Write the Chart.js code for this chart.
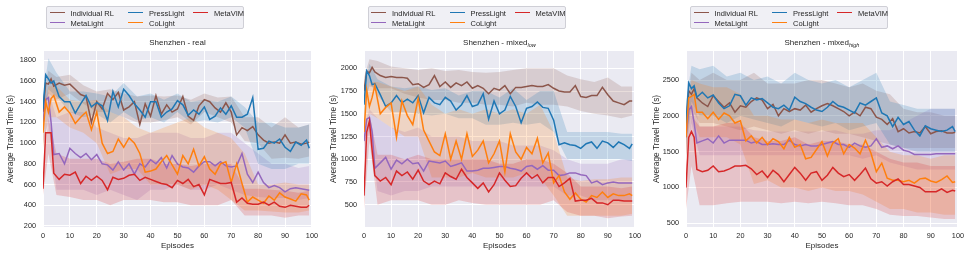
<!DOCTYPE html>
<html>
<head>
<meta charset="utf-8">
<script src="https://cdn.jsdelivr.net/npm/chart.js@4.4.0/dist/chart.umd.min.js"></script>
<style>
    body { margin: 0; background: #ffffff; width: 969px; height: 257px; position: relative; overflow: hidden; font-family: "Liberation Sans", Arial, sans-serif; }
    canvas { position: absolute; top: 0; }
    .legend { position: absolute; top: 6px; width: 198px; height: 23px; background: #f0f0f5; border: 1px solid #cfcfd6; border-radius: 2px; box-sizing: border-box; }
    .item { position: absolute; font-size: 7.5px; color: #262626; white-space: nowrap; line-height: 9px; }
    .item span.swatch { display: inline-block; width: 15px; height: 1.5px; vertical-align: middle; margin-right: 6px; position: relative; top: -1px; }
</style>
</head>
<body>
<canvas id="c1" width="323" height="257" style="left:0px"></canvas>
<canvas id="c2" width="323" height="257" style="left:323px"></canvas>
<canvas id="c3" width="323" height="257" style="left:646px"></canvas>
<script>
// Episode positions of the mean curves and of the shaded bands
const eps = [0, 1, 2, 3, 4, 6, 8, 10, 12, 14, 16, 18, 20, 22, 24, 26, 28, 30, 32, 34, 36, 38, 40, 42, 44, 46, 48, 50,
    52, 54, 56, 58, 60, 62, 64, 66, 68, 70, 72, 74, 76, 78, 80, 82, 84, 86, 88, 90, 92, 94, 96, 98, 99];
const bandEps = [0, 2, 5, 10, 15, 20, 25, 30, 35, 40, 45, 50, 55, 60, 65, 70, 75, 80, 85, 90, 95, 99];

const seriesNames = ['Individual RL', 'MetaLight', 'PressLight', 'CoLight', 'MetaVIM'];
const seriesColors = ['#8c564b', '#9467bd', '#1f77b4', '#ff7f0e', '#d62728'];

// ---- Shenzhen - real ----
const realIndRL = [1300, 1580, 1570, 1620, 1550, 1580, 1560, 1570, 1520, 1470, 1450, 1200, 1400, 1330, 1480, 1420, 1490, 1320,
    1350, 1400, 1180, 1380, 1260, 1460, 1280, 1370, 1300, 1330, 1450, 1260, 1220, 1360, 1420, 1400, 1340, 1300, 1390, 1300,
    1080, 1150, 1120, 1160, 1080, 1030, 1000, 1010, 1000, 1080, 1000, 1010, 990, 1000, 1010];
const realMetaLight = [1200, 1420, 1440, 1200, 890, 900, 800, 950, 900, 860, 900, 840, 890, 800, 790, 740, 820, 740, 800, 700,
    800, 770, 840, 800, 860, 760, 880, 800, 770, 760, 720, 780, 820, 820, 780, 820, 780, 770, 780, 900, 700, 620, 720, 620,
    570, 590, 570, 530, 560, 570, 560, 550, 545];
const realPressLight = [1330, 1660, 1620, 1580, 1600, 1450, 1400, 1400, 1290, 1380, 1460, 1350, 1390, 1360, 1220, 1500, 1350,
    1520, 1460, 1380, 1320, 1250, 1400, 1400, 1250, 1300, 1330, 1410, 1370, 1270, 1320, 1280, 1350, 1230, 1260, 1340, 1280,
    1360, 1250, 1250, 1280, 1440, 940, 950, 1020, 1000, 1040, 960, 920, 1010, 980, 1030, 950];
const realCoLight = [1100, 1400, 1300, 1430, 1460, 1300, 1350, 1290, 1190, 1250, 1300, 1130, 1300, 1000, 900, 920, 1040, 960,
    1050, 1000, 900, 720, 730, 750, 820, 880, 790, 700, 880, 800, 940, 780, 870, 750, 700, 800, 820, 620, 800, 610, 430, 480,
    450, 420, 490, 450, 520, 480, 460, 440, 510, 500, 450];
const realMetaVIM = [560, 1100, 1100, 1100, 710, 650, 700, 690, 720, 610, 680, 640, 680, 640, 550, 670, 650, 660, 690, 700, 640,
    670, 650, 630, 610, 600, 570, 640, 610, 650, 580, 600, 500, 650, 630, 610, 610, 620, 430, 470, 420, 410, 410, 430, 400,
    430, 390, 380, 400, 390, 380, 380, 400];

const realIndRLLo = [1150, 1480, 1420, 1480, 1380, 1300, 1300, 1250, 1200, 1200, 1220, 1250, 1180, 1300, 1250, 1200, 1020, 1000, 850, 860, 850, 870];
const realIndRLHi = [1450, 1700, 1640, 1660, 1560, 1500, 1520, 1480, 1450, 1460, 1450, 1460, 1420, 1480, 1440, 1450, 1250, 1250, 1150, 1250, 1150, 1180];
const realMetaLightLo = [1000, 1200, 550, 550, 550, 500, 550, 500, 450, 550, 550, 600, 550, 550, 600, 550, 500, 480, 470, 470, 450, 470];
const realMetaLightHi = [1400, 1500, 1250, 1300, 1300, 1150, 1100, 1050, 1050, 1100, 1100, 1100, 1050, 1050, 1100, 1100, 1000, 900, 800, 800, 760, 780];
const realPressLightLo = [1200, 1520, 1450, 1300, 1250, 1280, 1200, 1300, 1220, 1250, 1200, 1300, 1200, 1220, 1200, 1250, 1150, 800, 750, 750, 800, 800];
const realPressLightHi = [1450, 1820, 1680, 1500, 1500, 1480, 1450, 1580, 1450, 1480, 1420, 1480, 1400, 1420, 1400, 1450, 1350, 1200, 1200, 1150, 1150, 1180];
const realCoLightLo = [950, 1250, 1250, 1150, 1100, 1000, 700, 750, 750, 600, 600, 600, 550, 600, 550, 450, 350, 350, 340, 330, 330, 350];
const realCoLightHi = [1250, 1550, 1550, 1420, 1400, 1420, 1300, 1250, 1150, 1100, 1150, 1200, 1250, 1150, 1100, 1050, 900, 600, 600, 620, 600, 600];
const realMetaVIMLo = [500, 900, 500, 480, 450, 450, 400, 450, 450, 450, 430, 430, 400, 400, 400, 450, 300, 300, 300, 280, 300, 300];
const realMetaVIMHi = [650, 1250, 900, 850, 850, 850, 800, 820, 850, 850, 800, 800, 780, 800, 800, 800, 560, 560, 550, 540, 520, 540];

// ---- Shenzhen - mixed low ----
const lowIndRL = [1750, 1970, 1950, 2010, 1960, 1920, 1900, 1910, 1900, 1900, 1890, 1820, 1830, 1790, 1820, 1920, 1800, 1850,
    1790, 1840, 1810, 1850, 1780, 1810, 1780, 1720, 1780, 1760, 1810, 1720, 1790, 1790, 1800, 1810, 1800, 1800, 1820, 1780,
    1750, 1740, 1740, 1810, 1690, 1680, 1700, 1700, 1790, 1710, 1640, 1620, 1600, 1640, 1640];
const lowMetaLight = [1200, 1440, 1460, 1300, 900, 960, 1020, 890, 990, 950, 1000, 950, 960, 870, 980, 970, 960, 980, 920, 940,
    960, 870, 870, 880, 900, 900, 910, 920, 920, 900, 890, 870, 920, 930, 890, 930, 880, 880, 820, 830, 850, 850, 830, 820,
    740, 760, 720, 740, 750, 740, 740, 740, 740];
const lowPressLight = [1600, 1970, 1920, 1820, 1830, 1710, 1580, 1620, 1700, 1620, 1660, 1620, 1700, 1510, 1680, 1620, 1600,
    1680, 1640, 1540, 1600, 1700, 1580, 1600, 1720, 1440, 1640, 1500, 1540, 1690, 1580, 1400, 1560, 1580, 1630, 1570, 1560,
    1430, 1160, 1180, 1160, 1150, 1120, 1170, 1190, 1120, 1200, 1180, 1130, 1190, 1160, 1120, 1170];
const lowCoLight = [1300, 1760, 1580, 1680, 1810, 1500, 1570, 1620, 1240, 1640, 1480, 1380, 1670, 1320, 1200, 1080, 1040, 1280,
    1000, 1200, 1000, 1280, 1030, 1100, 1200, 960, 1060, 1200, 860, 1280, 1080, 1000, 1130, 1060, 1230, 960, 1070, 740, 820,
    640, 560, 630, 560, 530, 600, 580, 640, 580, 620, 600, 600, 620, 600];
const lowMetaVIM = [600, 1300, 1420, 1100, 820, 760, 800, 720, 870, 820, 860, 780, 880, 760, 720, 760, 730, 850, 810, 780, 890,
    800, 740, 680, 740, 640, 720, 850, 770, 700, 710, 790, 850, 790, 830, 740, 800, 800, 700, 740, 790, 540, 550, 550, 570,
    520, 520, 500, 550, 550, 540, 540, 540];

const lowIndRLLo = [1600, 1800, 1780, 1780, 1720, 1680, 1650, 1650, 1620, 1620, 1600, 1600, 1580, 1620, 1600, 1600, 1580, 1530, 1500, 1480, 1450, 1480];
const lowIndRLHi = [1900, 2100, 2080, 2020, 2000, 1980, 2000, 1970, 1980, 1960, 1950, 1960, 1980, 2000, 2000, 2000, 1920, 1880, 1850, 1900, 1800, 1800];
const lowMetaLightLo = [1000, 1350, 650, 600, 650, 650, 700, 700, 700, 700, 700, 700, 700, 700, 700, 700, 600, 600, 550, 550, 550, 550];
const lowMetaLightHi = [1350, 1550, 1450, 1350, 1300, 1350, 1250, 1250, 1250, 1200, 1200, 1200, 1150, 1150, 1150, 1100, 1000, 950, 950, 950, 1000, 1000];
const lowPressLightLo = [1450, 1850, 1700, 1520, 1520, 1500, 1480, 1500, 1450, 1450, 1380, 1380, 1400, 1380, 1400, 1300, 1000, 1000, 1000, 1000, 1000, 980];
const lowPressLightHi = [1750, 2050, 1880, 1800, 1780, 1800, 1760, 1780, 1700, 1750, 1750, 1680, 1780, 1650, 1750, 1750, 1300, 1300, 1300, 1300, 1280, 1280];
const lowCoLightLo = [1150, 1500, 1450, 1350, 1250, 1250, 800, 800, 800, 850, 800, 800, 800, 850, 800, 600, 380, 380, 380, 380, 380, 400];
const lowCoLightHi = [1450, 1850, 1850, 1800, 1750, 1800, 1600, 1500, 1550, 1500, 1550, 1500, 1550, 1500, 1600, 1300, 800, 760, 780, 780, 800, 800];
const lowMetaVIMLo = [450, 1200, 500, 550, 550, 550, 500, 500, 550, 520, 500, 500, 500, 500, 500, 550, 420, 380, 380, 350, 370, 380];
const lowMetaVIMHi = [750, 1500, 1050, 1050, 1000, 1050, 1000, 1000, 1000, 1000, 1000, 950, 950, 1000, 1000, 950, 850, 700, 700, 700, 680, 700];

// ---- Shenzhen - mixed high ----
const highIndRL = [1800, 2350, 2300, 2380, 2250, 2180, 2130, 2280, 2200, 2120, 2180, 2050, 2140, 2120, 2200, 2250, 2220, 2100,
    2160, 2000, 2100, 2060, 2100, 2080, 2150, 2050, 2100, 2140, 2170, 2140, 2100, 2060, 2000, 2050, 2000, 2120, 2100, 1980,
    1950, 1880, 1960, 1780, 1820, 1760, 1780, 1760, 1850, 1750, 1780, 1790, 1760, 1760, 1770];
const highMetaLight = [1700, 2080, 2130, 1900, 1620, 1650, 1680, 1620, 1720, 1620, 1660, 1660, 1660, 1660, 1620, 1640, 1600,
    1600, 1610, 1600, 1600, 1660, 1600, 1580, 1600, 1580, 1580, 1600, 1620, 1640, 1600, 1600, 1560, 1620, 1580, 1560, 1580,
    1680, 1560, 1580, 1540, 1580, 1520, 1500, 1460, 1460, 1460, 1460, 1470, 1470, 1470, 1470, 1470];
const highPressLight = [1900, 2460, 2380, 2420, 2260, 2330, 2250, 2290, 2180, 2100, 2140, 2300, 2280, 2150, 2250, 2220, 2240,
    2180, 2120, 2100, 2150, 2080, 2260, 2200, 2170, 2120, 2080, 2060, 2120, 2200, 2140, 2120, 2080, 2040, 2180, 2150, 2200,
    2250, 2040, 2000, 1850, 1980, 1880, 1920, 1800, 1720, 1860, 1820, 1800, 1780, 1800, 1850, 1780];
const highCoLight = [1700, 2250, 2270, 2300, 2050, 2050, 1960, 2050, 1950, 2040, 2000, 1900, 1930, 1650, 1720, 1620, 1700, 1600,
    1680, 1640, 1540, 1700, 1560, 1600, 1400, 1420, 1530, 1640, 1440, 1620, 1680, 1470, 1600, 1550, 1470, 1660, 1480, 1220,
    1340, 1130, 1100, 1100, 1080, 1100, 1060, 1120, 1130, 1090, 1070, 1110, 1160, 1070, 1080];
const highMetaVIM = [1000, 1700, 1780, 1700, 1250, 1220, 1240, 1300, 1220, 1230, 1260, 1300, 1300, 1310, 1260, 1180, 1230, 1140,
    1240, 1180, 1080, 1180, 1280, 1200, 1100, 1200, 1220, 1100, 1170, 1280, 1200, 1150, 1180, 1100, 1180, 1270, 1120, 1060,
    1080, 1020, 1080, 1120, 1040, 1040, 1020, 1000, 940, 940, 940, 980, 930, 960, 950];

const highIndRLLo = [1500, 2100, 1900, 1900, 1850, 1800, 1850, 1800, 1750, 1800, 1750, 1800, 1750, 1750, 1700, 1650, 1600, 1550, 1550, 1550, 1550, 1550];
const highIndRLHi = [2100, 2600, 2500, 2600, 2500, 2500, 2600, 2450, 2450, 2450, 2500, 2500, 2450, 2400, 2450, 2350, 2300, 2100, 2050, 2050, 2000, 2000];
const highMetaLightLo = [1400, 1900, 1450, 1450, 1450, 1450, 1450, 1450, 1450, 1450, 1450, 1450, 1450, 1450, 1400, 1450, 1350, 1300, 1250, 1250, 1250, 1250];
const highMetaLightHi = [2000, 2350, 1850, 1850, 1850, 1850, 1800, 1780, 1780, 1780, 1780, 1780, 1800, 1750, 1750, 1800, 1800, 1900, 2000, 2100, 2100, 2100];
const highPressLightLo = [1600, 2200, 2000, 2000, 1900, 2000, 1950, 1900, 1850, 1950, 1900, 1850, 1900, 1800, 1850, 1900, 1600, 1550, 1500, 1500, 1500, 1500];
const highPressLightHi = [2200, 2700, 2650, 2700, 2550, 2600, 2500, 2550, 2450, 2600, 2500, 2450, 2500, 2400, 2500, 2600, 2200, 2150, 2100, 2100, 2100, 2100];
const highCoLightLo = [1400, 2000, 1700, 1700, 1700, 1600, 1050, 1100, 1000, 1000, 950, 1000, 950, 950, 900, 800, 700, 700, 650, 650, 620, 620];
const highCoLightHi = [2000, 2500, 2450, 2400, 2400, 2300, 2000, 2000, 1950, 1950, 1900, 1950, 1900, 1900, 1900, 1700, 1500, 1450, 1450, 1400, 1450, 1450];
const highMetaVIMLo = [700, 1300, 750, 750, 780, 800, 800, 800, 780, 800, 780, 800, 780, 750, 750, 700, 620, 600, 600, 580, 560, 560];
const highMetaVIMHi = [1300, 2000, 1850, 1850, 1900, 1900, 1700, 1650, 1650, 1700, 1600, 1650, 1650, 1600, 1600, 1500, 1400, 1350, 1350, 1300, 1300, 1300];

// Axis ranges and tick labels
const xTickValues = [0, 10, 20, 30, 40, 50, 60, 70, 80, 90, 100];
const realYRange = [190, 1890];
const realYTicks = [200, 400, 600, 800, 1000, 1200, 1400, 1600, 1800];
const lowYRange = [255, 2190];
const lowYTicks = [500, 750, 1000, 1250, 1500, 1750, 2000];
const highYRange = [448, 2905];
const highYTicks = [500, 1000, 1500, 2000, 2500];

const FONT = '"Liberation Sans", Arial, sans-serif';
const TEXT = '#262626';

// Convert hex colour into rgba string
function rgba(hex, a) {
    const n = parseInt(hex.slice(1), 16);
    return `rgba(${(n >> 16) & 255}, ${(n >> 8) & 255}, ${n & 255}, ${a})`;
}

function toPoints(xs, ys) {
    return xs.map((x, i) => ({ x: x, y: ys[i] }));
}

// Plugin that paints the grey axes background
const plotBackground = {
    id: 'plotBackground',
    beforeDraw(chart) {
        const a = chart.chartArea;
        const ctx = chart.ctx;
        ctx.save();
        ctx.fillStyle = '#eaeaf2';
        ctx.fillRect(a.left, a.top, a.right - a.left, a.bottom - a.top);
        ctx.restore();
    }
};

// Plugin that draws the title, with an optional italic subscript
const subTitle = {
    id: 'subTitle',
    afterDraw(chart, args, opts) {
        const ctx = chart.ctx;
        const a = chart.chartArea;
        ctx.save();
        ctx.fillStyle = TEXT;
        ctx.textBaseline = 'alphabetic';
        ctx.font = `8px ${FONT}`;
        const mainW = ctx.measureText(opts.text).width;
        ctx.font = `italic 5.5px ${FONT}`;
        const subW = opts.sub ? ctx.measureText(opts.sub).width : 0;
        const x0 = (a.left + a.right) / 2 - (mainW + subW) / 2;
        const y0 = 45;
        ctx.font = `8px ${FONT}`;
        ctx.fillText(opts.text, x0, y0);
        if (opts.sub) {
            ctx.font = `italic 5.5px ${FONT}`;
            ctx.fillText(opts.sub, x0 + mainW, y0 + 1.8);
        }
        ctx.restore();
    }
};

// Function to create one panel
function createPanel(canvasId, title, sub, yRange, yTicks, yWidth, rightPad, means, lows, highs) {
    let datasets = [];
    means.forEach((m, i) => {
        datasets.push({
            data: toPoints(bandEps, highs[i]),
            borderWidth: 0,
            pointRadius: 0,
            backgroundColor: rgba(seriesColors[i], 0.2),
            fill: '+1',
            order: 20 - i
        });
        datasets.push({
            data: toPoints(bandEps, lows[i]),
            borderWidth: 0,
            pointRadius: 0,
            fill: false,
            order: 20 - i
        });
    });
    means.forEach((m, i) => {
        datasets.push({
            label: seriesNames[i],
            data: toPoints(eps, m),
            borderColor: seriesColors[i],
            borderWidth: 1.5,
            pointRadius: 0,
            fill: false,
            order: 5 - i
        });
    });

    const ctx = document.getElementById(canvasId).getContext('2d');
    return new Chart(ctx, {
        type: 'line',
        data: { datasets: datasets },
        plugins: [plotBackground, subTitle],
        options: {
            responsive: false,
            animation: false,
            events: [],
            layout: { padding: { top: 51, right: rightPad, bottom: 0, left: 0 } },
            plugins: {
                legend: { display: false },
                tooltip: { enabled: false },
                subTitle: { text: title, sub: sub }
            },
            scales: {
                x: {
                    type: 'linear',
                    min: 0,
                    max: 100,
                    afterBuildTicks: (scale) => { scale.ticks = xTickValues.map(v => ({ value: v })); },
                    ticks: { color: TEXT, font: { family: FONT, size: 7.3 }, padding: 5, maxRotation: 0, callback: (v) => String(v) },
                    grid: { color: '#ffffff', lineWidth: 1, drawTicks: false },
                    border: { display: false },
                    title: { display: true, text: 'Episodes', color: TEXT, font: { family: FONT, size: 8 }, padding: { top: 6, bottom: 6 } },
                    afterFit: (scale) => { scale.height = 30; }
                },
                y: {
                    min: yRange[0],
                    max: yRange[1],
                    afterBuildTicks: (scale) => { scale.ticks = yTicks.map(v => ({ value: v })); },
                    ticks: { color: TEXT, font: { family: FONT, size: 7.3 }, padding: 7, callback: (v) => String(v) },
                    grid: { color: '#ffffff', lineWidth: 1, drawTicks: false },
                    border: { display: false },
                    title: { display: true, text: 'Average Travel Time (s)', color: TEXT, font: { family: FONT, size: 8.3 }, padding: { top: 6, bottom: 6 } },
                    afterFit: (scale) => { scale.width = yWidth; }
                }
            }
        }
    });
}

// Function to build the html legend above a panel
function createLegend(left) {
    const box = document.createElement('div');
    box.className = 'legend';
    box.style.left = left + 'px';
    const colX = [2.5, 81, 146];
    seriesNames.forEach((name, i) => {
        const item = document.createElement('div');
        item.className = 'item';
        item.style.left = colX[Math.floor(i / 2)] + 'px';
        item.style.top = (i % 2 === 0 ? 1.5 : 11.5) + 'px';
        item.innerHTML = `<span class="swatch" style="background:${seriesColors[i]}"></span>${name}`;
        box.appendChild(item);
    });
    document.body.appendChild(box);
}

createPanel('c1', 'Shenzhen - real', '', realYRange, realYTicks, 43, 8,
    [realIndRL, realMetaLight, realPressLight, realCoLight, realMetaVIM],
    [realIndRLLo, realMetaLightLo, realPressLightLo, realCoLightLo, realMetaVIMLo],
    [realIndRLHi, realMetaLightHi, realPressLightHi, realCoLightHi, realMetaVIMHi]);
createPanel('c2', 'Shenzhen - mixed', 'low', lowYRange, lowYTicks, 41, 10,
    [lowIndRL, lowMetaLight, lowPressLight, lowCoLight, lowMetaVIM],
    [lowIndRLLo, lowMetaLightLo, lowPressLightLo, lowCoLightLo, lowMetaVIMLo],
    [lowIndRLHi, lowMetaLightHi, lowPressLightHi, lowCoLightHi, lowMetaVIMHi]);
createPanel('c3', 'Shenzhen - mixed', 'high', highYRange, highYTicks, 40, 11,
    [highIndRL, highMetaLight, highPressLight, highCoLight, highMetaVIM],
    [highIndRLLo, highMetaLightLo, highPressLightLo, highCoLightLo, highMetaVIMLo],
    [highIndRLHi, highMetaLightHi, highPressLightHi, highCoLightHi, highMetaVIMHi]);

createLegend(46);
createLegend(367.5);
createLegend(690);
</script>
</body>
</html>
